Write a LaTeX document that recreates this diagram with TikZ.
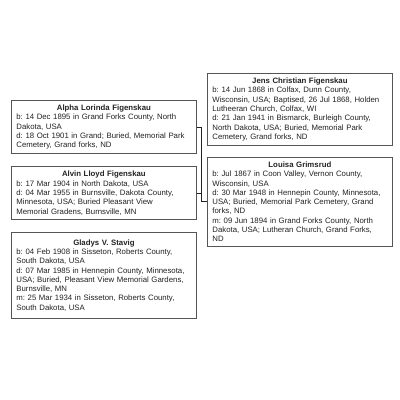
\documentclass[tikz,border=0pt]{standalone}
\usepackage{fontspec}
\setmainfont{Liberation Sans}
\usepackage{xcolor}
\usepackage{tikz}
\usetikzlibrary{positioning}
\definecolor{boxline}{HTML}{555555}
\definecolor{textgray}{HTML}{222222}
\tikzstyle{person}=[rectangle, draw=boxline, line width=0.8pt, fill=white, text=textgray,
        anchor=north west, text width=175pt, inner xsep=5pt, inner ysep=4.5pt, align=left,
        font=\fontsize{7.8}{9.3}\selectfont\frenchspacing, node distance=12pt]
\tikzstyle{line}=[-, draw=textgray, line width=0.7pt]
\tikzstyle{marriage}=[-, draw=textgray, double, double distance=1.4pt, line width=0.6pt]
\newcommand{\who}[1]{\makebox[\linewidth]{\textbf{#1}}}

\begin{document}
\begin{tikzpicture}[x=1pt, y=1pt]
    \useasboundingbox (0,0) rectangle (400,-400);
    \node (Alpha) [person] at (11,-100)
        {
            \who{Alpha Lorinda Figenskau}\\
            b: 14 Dec 1895 in Grand Forks County, North\\
            Dakota, USA\\
            d: 18 Oct 1901 in Grand; Buried, Memorial Park\\
            Cemetery, Grand forks, ND
        };
    \node (Alvin) [person, below=12pt of Alpha.south west, anchor=north west]
        {
            \who{Alvin Lloyd Figenskau}\\
            b: 17 Mar 1904 in North Dakota, USA\\
            d: 04 Mar 1955 in Burnsville, Dakota County,\\
            Minnesota, USA; Buried Pleasant View\\
            Memorial Gradens, Burnsville, MN
        };
    \node (Gladys) [person, below=12pt of Alvin.south west, anchor=north west,
        minimum height=86pt]
        {
            \who{Gladys V. Stavig}\\
            b: 04 Feb 1908 in Sisseton, Roberts County,\\
            South Dakota, USA\\
            d: 07 Mar 1985 in Hennepin County, Minnesota,\\
            USA; Buried, Pleasant View Memorial Gardens,\\
            Burnsville, MN\\
            m: 25 Mar 1934 in Sisseton, Roberts County,\\
            South Dakota, USA
        };
    \node (Jens) [person] at (207,-73)
        {
            \who{Jens Christian Figenskau}\\
            b: 14 Jun 1868 in Colfax, Dunn County,\\
            Wisconsin, USA; Baptised, 26 Jul 1868, Holden\\
            Lutheeran Church, Colfax, WI\\
            d: 21 Jan 1941 in Bismarck, Burleigh County,\\
            North Dakota, USA; Buried, Memorial Park\\
            Cemetery, Grand forks, ND
        };
    \node (Louisa) [person, below=11pt of Jens.south west, anchor=north west]
        {
            \who{Louisa Grimsrud}\\
            b: Jul 1867 in Coon Valley, Vernon County,\\
            Wisconsin, USA\\
            d: 30 Mar 1948 in Hennepin County, Minnesota,\\
            USA; Buried, Memorial Park Cemetery, Grand\\
            forks, ND\\
            m: 09 Jun 1894 in Grand Forks County, North\\
            Dakota, USA; Lutheran Church, Grand Forks,\\
            ND
        };
    \draw[marriage] (Jens.south) -- (Louisa.north);
    \draw[marriage] (Alvin.south) -- (Gladys.north);
    \draw[line] (Alpha.east) -- ++(5,0) |- (Louisa.west);
    \draw[line] (Alvin.east) -- ++(5,0);
\end{tikzpicture}
\end{document}
